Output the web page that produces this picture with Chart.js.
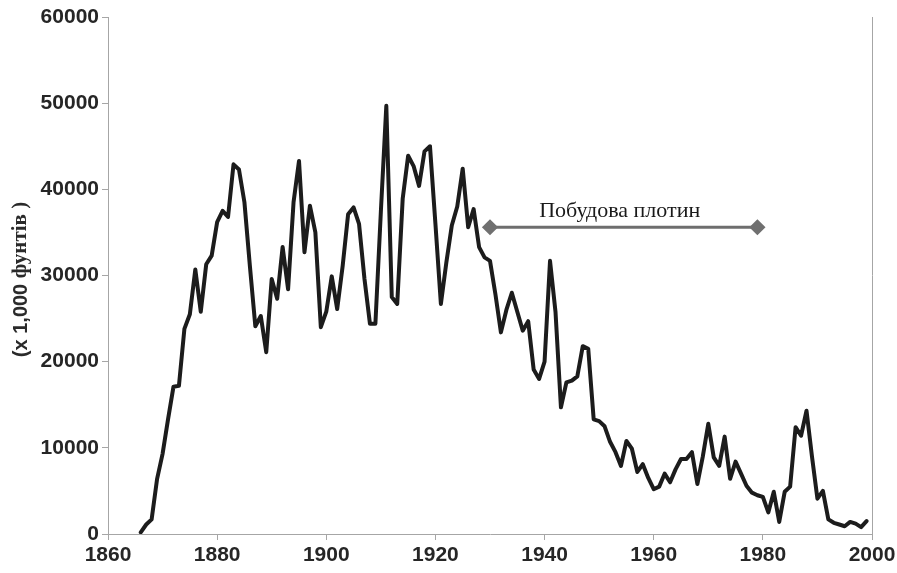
<!DOCTYPE html>
<html>
<head>
<meta charset="utf-8">
<script src="https://cdn.jsdelivr.net/npm/chart.js@4/dist/chart.umd.min.js"></script>
<style>
  html, body { margin: 0; padding: 0; background: #ffffff; }
  #wrap { position: relative; width: 897px; height: 573px; }
</style>
</head>
<body>
<div id="wrap"><canvas id="chart" width="897" height="573"></canvas></div>
<script>
// Annual catch, thousands of pounds
const years = [];
for (let y = 1866; y <= 1999; y++) years.push(y);

const catchValues = [
  200, 1100, 1700, 6400, 9300, 13300, 17100, 17200, 23800, 25500,          // 1866-1875
  30700, 25800, 31300, 32300, 36200, 37500, 36800, 42900, 42300, 38500,    // 1876-1885
  31100, 24100, 25300, 21100, 29600, 27300, 33300, 28400, 38500, 43300,    // 1886-1895
  32700, 38100, 35000, 24000, 25800, 29900, 26100, 31100, 37100, 37900,    // 1896-1905
  36000, 29600, 24400, 24400, 37400, 49700, 27500, 26700, 38900, 43900,    // 1906-1915
  42700, 40400, 44400, 45000, 36000, 26700, 31500, 35800, 38000, 42400,    // 1916-1925
  35600, 37700, 33300, 32100, 31700, 27800, 23400, 26000, 28000, 25800,    // 1926-1935
  23600, 24700, 19100, 18000, 20000, 31700, 25800, 14700, 17600, 17800,    // 1936-1945
  18300, 21800, 21500, 13300, 13100, 12500, 10700, 9500, 7900, 10800,      // 1946-1955
  9900, 7200, 8100, 6500, 5200, 5500, 7000, 6000, 7500, 8700,              // 1956-1965
  8700, 9500, 5800, 9000, 12800, 8900, 7900, 11300, 6400, 8400,            // 1966-1975
  7000, 5600, 4800, 4500, 4300, 2500, 4900, 1400, 4900, 5500,              // 1976-1985
  12400, 11400, 14300, 9000, 4100, 5000, 1700, 1300, 1100, 900,            // 1986-1995
  1400, 1200, 800, 1500                                                    // 1996-1999
];

// Dam construction period
const damYears = [1930, 1979];
const damLevel = [35600, 35600];
const damLabel = 'Побудова плотин';

// Axis ticks
const xTicks = [1860, 1880, 1900, 1920, 1940, 1960, 1980, 2000];
const yTicks = [0, 10000, 20000, 30000, 40000, 50000, 60000];
const yTitleParts = ['(x 1,000 ', 'фунтів )'];

const catchPoints = years.map((y, i) => ({ x: y, y: catchValues[i] }));
const damPoints = damYears.map((y, i) => ({ x: y, y: damLevel[i] }));

const axisGray = '#a6a6a6';
const tickFont = { family: '"Liberation Sans", Arial, sans-serif', size: 21, weight: 'bold' };

// Right frame edge
const rightEdge = {
  id: 'rightEdge',
  afterDraw(chart) {
    const { ctx, chartArea } = chart;
    ctx.save();
    ctx.strokeStyle = axisGray;
    ctx.lineWidth = 1;
    ctx.beginPath();
    ctx.moveTo(Math.round(chartArea.right) + 0.5, chartArea.top);
    ctx.lineTo(Math.round(chartArea.right) + 0.5, chartArea.bottom);
    ctx.stroke();
    ctx.restore();
  }
};

// Rotated y-axis title in two fonts
const yTitle = {
  id: 'yTitle',
  afterDraw(chart) {
    const { ctx, chartArea } = chart;
    const f1 = 'bold 20px "Liberation Sans", Arial, sans-serif';
    const f2 = 'bold 21px "Liberation Serif", "Times New Roman", serif';
    ctx.save();
    ctx.font = f1;
    const w1 = ctx.measureText(yTitleParts[0]).width;
    ctx.font = f2;
    const w2 = ctx.measureText(yTitleParts[1]).width;
    const cy = (chartArea.top + chartArea.bottom) / 2 + 4;
    ctx.translate(21, cy);
    ctx.rotate(-Math.PI / 2);
    ctx.fillStyle = '#2a2a2a';
    ctx.textBaseline = 'middle';
    ctx.textAlign = 'left';
    const start = -(w1 + w2) / 2;
    ctx.font = f1;
    ctx.fillText(yTitleParts[0], start, 0);
    ctx.font = f2;
    ctx.fillText(yTitleParts[1], start + w1, 0);
    ctx.restore();
  }
};

// Label above the dam-construction bar
const damText = {
  id: 'damText',
  afterDatasetsDraw(chart) {
    const { ctx, scales } = chart;
    const cx = scales.x.getPixelForValue((damYears[0] + damYears[1]) / 2) - 4;
    const py = scales.y.getPixelForValue(damLevel[0]);
    ctx.save();
    ctx.font = '22px "Liberation Serif", "Times New Roman", serif';
    ctx.fillStyle = '#1a1a1a';
    ctx.textAlign = 'center';
    ctx.textBaseline = 'alphabetic';
    ctx.fillText(damLabel, cx, py - 10);
    ctx.restore();
  }
};

new Chart(document.getElementById('chart'), {
  type: 'line',
  data: {
    datasets: [
      {
        data: catchPoints,
        borderColor: '#1c1c1c',
        borderWidth: 4,
        borderJoinStyle: 'round',
        borderCapStyle: 'round',
        pointRadius: 0,
        tension: 0,
        fill: false
      },
      {
        data: damPoints,
        borderColor: '#6e6e6e',
        borderWidth: 3,
        pointStyle: 'rectRot',
        pointRadius: 6,
        pointBackgroundColor: '#707070',
        pointBorderColor: '#707070',
        tension: 0,
        fill: false
      }
    ]
  },
  options: {
    responsive: false,
    animation: false,
    events: [],
    layout: { padding: { top: 17, right: 25, bottom: 0, left: 0 } },
    plugins: {
      legend: { display: false },
      tooltip: { enabled: false }
    },
    scales: {
      x: {
        type: 'linear',
        min: 1860,
        max: 2000,
        afterBuildTicks(scale) { scale.ticks = xTicks.map(v => ({ value: v })); },
        afterFit(scale) { scale.height = 39; scale.paddingLeft = 0; scale.paddingRight = 0; },
        grid: { drawOnChartArea: false, drawTicks: true, tickLength: 6, color: axisGray },
        border: { color: axisGray, width: 1 },
        ticks: {
          font: tickFont,
          color: '#262626',
          padding: 3,
          maxRotation: 0,
          callback: v => String(v)
        }
      },
      y: {
        type: 'linear',
        min: 0,
        max: 60000,
        afterBuildTicks(scale) { scale.ticks = yTicks.map(v => ({ value: v })); },
        afterFit(scale) { scale.width = 108; scale.paddingTop = 0; scale.paddingBottom = 0; },
        grid: { drawOnChartArea: false, drawTicks: true, tickLength: 6, color: axisGray },
        border: { color: axisGray, width: 1 },
        ticks: {
          font: tickFont,
          color: '#262626',
          padding: 3,
          callback: v => String(v)
        }
      }
    }
  },
  plugins: [rightEdge, yTitle, damText]
});
</script>
</body>
</html>
